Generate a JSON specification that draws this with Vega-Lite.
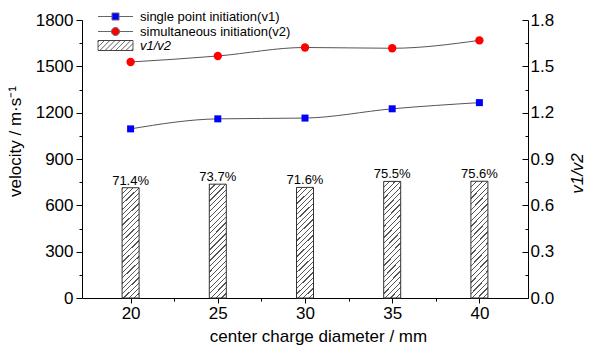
{
  "$schema": "https://vega.github.io/schema/vega-lite/v6.json",
  "width": 446,
  "height": 278,
  "autosize": {"type": "none"},
  "padding": {"left": 82, "top": 20, "right": 62, "bottom": 47},
  "background": "white",
  "config": {
    "view": {"stroke": null},
    "font": "Liberation Sans",
    "axis": {
      "grid": false,
      "domainColor": "#000",
      "domainWidth": 1,
      "tickColor": "#000",
      "tickWidth": 1,
      "labelColor": "#000",
      "titleColor": "#000",
      "labelFont": "Liberation Sans",
      "titleFont": "Liberation Sans",
      "labelFontSize": 17,
      "titleFontSize": 17,
      "titleFontWeight": "normal",
      "labelFlush": false,
      "labelOverlap": false
    },
    "legend": {"labelFont": "Liberation Sans", "labelColor": "#000", "labelFontSize": 13}
  },
  "data": {
    "values": [
      {"d": 20, "v1": 1095, "v2": 1528, "ratio": 0.714, "label": "71.4%"},
      {"d": 25, "v1": 1160, "v2": 1567, "ratio": 0.737, "label": "73.7%"},
      {"d": 30, "v1": 1165, "v2": 1622, "ratio": 0.716, "label": "71.6%"},
      {"d": 35, "v1": 1225, "v2": 1617, "ratio": 0.755, "label": "75.5%"},
      {"d": 40, "v1": 1265, "v2": 1668, "ratio": 0.756, "label": "75.6%"}
    ]
  },
  "layer": [
    {
      "mark": {
        "type": "bar",
        "size": 17,
        "strokeWidth": 1,
        "stroke": "#333333",
        "fill": {
          "gradient": "linear",
          "x1": 0, "y1": 0, "x2": 0.169, "y2": 1.125,
          "stops": [
            {"offset": 0, "color": "#555"}, {"offset": 0.0095, "color": "#555"}, {"offset": 0.0095, "color": "#fff"}, {"offset": 0.0417, "color": "#fff"},
            {"offset": 0.0417, "color": "#555"}, {"offset": 0.0512, "color": "#555"}, {"offset": 0.0512, "color": "#fff"}, {"offset": 0.0833, "color": "#fff"},
            {"offset": 0.0833, "color": "#555"}, {"offset": 0.0928, "color": "#555"}, {"offset": 0.0928, "color": "#fff"}, {"offset": 0.125, "color": "#fff"},
            {"offset": 0.125, "color": "#555"}, {"offset": 0.1345, "color": "#555"}, {"offset": 0.1345, "color": "#fff"}, {"offset": 0.1667, "color": "#fff"},
            {"offset": 0.1667, "color": "#555"}, {"offset": 0.1762, "color": "#555"}, {"offset": 0.1762, "color": "#fff"}, {"offset": 0.2083, "color": "#fff"},
            {"offset": 0.2083, "color": "#555"}, {"offset": 0.2178, "color": "#555"}, {"offset": 0.2178, "color": "#fff"}, {"offset": 0.25, "color": "#fff"},
            {"offset": 0.25, "color": "#555"}, {"offset": 0.2595, "color": "#555"}, {"offset": 0.2595, "color": "#fff"}, {"offset": 0.2917, "color": "#fff"},
            {"offset": 0.2917, "color": "#555"}, {"offset": 0.3012, "color": "#555"}, {"offset": 0.3012, "color": "#fff"}, {"offset": 0.3333, "color": "#fff"},
            {"offset": 0.3333, "color": "#555"}, {"offset": 0.3428, "color": "#555"}, {"offset": 0.3428, "color": "#fff"}, {"offset": 0.375, "color": "#fff"},
            {"offset": 0.375, "color": "#555"}, {"offset": 0.3845, "color": "#555"}, {"offset": 0.3845, "color": "#fff"}, {"offset": 0.4167, "color": "#fff"},
            {"offset": 0.4167, "color": "#555"}, {"offset": 0.4262, "color": "#555"}, {"offset": 0.4262, "color": "#fff"}, {"offset": 0.4583, "color": "#fff"},
            {"offset": 0.4583, "color": "#555"}, {"offset": 0.4678, "color": "#555"}, {"offset": 0.4678, "color": "#fff"}, {"offset": 0.5, "color": "#fff"},
            {"offset": 0.5, "color": "#555"}, {"offset": 0.5095, "color": "#555"}, {"offset": 0.5095, "color": "#fff"}, {"offset": 0.5417, "color": "#fff"},
            {"offset": 0.5417, "color": "#555"}, {"offset": 0.5512, "color": "#555"}, {"offset": 0.5512, "color": "#fff"}, {"offset": 0.5833, "color": "#fff"},
            {"offset": 0.5833, "color": "#555"}, {"offset": 0.5928, "color": "#555"}, {"offset": 0.5928, "color": "#fff"}, {"offset": 0.625, "color": "#fff"},
            {"offset": 0.625, "color": "#555"}, {"offset": 0.6345, "color": "#555"}, {"offset": 0.6345, "color": "#fff"}, {"offset": 0.6667, "color": "#fff"},
            {"offset": 0.6667, "color": "#555"}, {"offset": 0.6762, "color": "#555"}, {"offset": 0.6762, "color": "#fff"}, {"offset": 0.7083, "color": "#fff"},
            {"offset": 0.7083, "color": "#555"}, {"offset": 0.7178, "color": "#555"}, {"offset": 0.7178, "color": "#fff"}, {"offset": 0.75, "color": "#fff"},
            {"offset": 0.75, "color": "#555"}, {"offset": 0.7595, "color": "#555"}, {"offset": 0.7595, "color": "#fff"}, {"offset": 0.7917, "color": "#fff"},
            {"offset": 0.7917, "color": "#555"}, {"offset": 0.8012, "color": "#555"}, {"offset": 0.8012, "color": "#fff"}, {"offset": 0.8333, "color": "#fff"},
            {"offset": 0.8333, "color": "#555"}, {"offset": 0.8428, "color": "#555"}, {"offset": 0.8428, "color": "#fff"}, {"offset": 0.875, "color": "#fff"},
            {"offset": 0.875, "color": "#555"}, {"offset": 0.8845, "color": "#555"}, {"offset": 0.8845, "color": "#fff"}, {"offset": 0.9167, "color": "#fff"},
            {"offset": 0.9167, "color": "#555"}, {"offset": 0.9262, "color": "#555"}, {"offset": 0.9262, "color": "#fff"}, {"offset": 0.9583, "color": "#fff"},
            {"offset": 0.9583, "color": "#555"}, {"offset": 0.9678, "color": "#555"}, {"offset": 0.9678, "color": "#fff"}, {"offset": 1, "color": "#fff"}
          ]
        }
      },
      "encoding": {
        "x": {
          "field": "d",
          "type": "quantitative",
          "scale": {"domain": [17.5, 42.5], "nice": false, "zero": false},
          "axis": {
            "orient": "bottom",
            "values": [20, 25, 30, 35, 40],
            "tickSize": 5,
            "labelPadding": 2,
            "title": "center charge diameter / mm",
            "titleX": 236,
            "titleY": 43,
            "titleAlign": "center",
            "titleBaseline": "alphabetic"
          }
        },
        "y": {
          "field": "ratio",
          "type": "quantitative",
          "scale": {"domain": [0, 1.8], "nice": false},
          "axis": {
            "orient": "right",
            "values": [0, 0.3, 0.6, 0.9, 1.2, 1.5, 1.8],
            "format": ".1f",
            "tickSize": -6,
            "labelPadding": 8,
            "title": "v1/v2",
            "titleFontStyle": "italic",
            "titleAngle": 270,
            "titleX": 49,
            "titleY": 153,
            "titleAlign": "center",
            "titleBaseline": "middle"
          }
        }
      }
    },
    {
      "mark": {"type": "text", "dy": -3, "baseline": "alphabetic", "align": "center", "fontSize": 13, "font": "Liberation Sans", "color": "#000"},
      "encoding": {
        "x": {"field": "d", "type": "quantitative", "axis": null},
        "y": {
          "field": "ratio",
          "type": "quantitative",
          "scale": {"domain": [0, 1.8], "nice": false},
          "axis": {
            "orient": "right",
            "values": [0.15, 0.45, 0.75, 1.05, 1.35, 1.65],
            "tickSize": -3,
            "labels": false,
            "domain": false,
            "title": null
          }
        },
        "text": {"field": "label"}
      }
    },
    {
      "transform": [{"filter": "false"}],
      "mark": {"type": "point", "filled": false, "stroke": "#444444", "strokeWidth": 1, "opacity": 1},
      "encoding": {
        "x": {"field": "d", "type": "quantitative", "axis": null},
        "y": {"field": "ratio", "type": "quantitative", "scale": {"domain": [0, 1.8]}, "axis": null},
        "strokeDash": {
          "datum": "v1/v2",
          "type": "nominal",
          "scale": {"domain": ["v1/v2"], "range": [[1, 0]]},
          "legend": {
            "orient": "none",
            "legendX": 27,
            "legendY": 19,
            "title": null,
            "padding": 0,
            "symbolType": "M-3.5,-1H3.5V1H-3.5Z M-3.5,-0.75L-3.25,-1 M-3.5,0.3L-2.2,-1 M-3.15,1L-1.15,-1 M-2.1,1L-0.1,-1 M-1.05,1L0.95,-1 M0,1L2,-1 M1.05,1L3.05,-1 M2.1,1L3.5,-0.4 M3.15,1L3.5,0.65",
            "symbolSize": 100,
            "symbolStrokeColor": "#444444",
            "symbolFillColor": "transparent",
            "symbolStrokeWidth": 1,
            "labelOffset": 18,
            "labelFontSize": 13,
            "labelFontStyle": "italic"
          }
        }
      }
    },
    {
      "transform": [{"fold": ["v1", "v2"], "as": ["key", "value"]}],
      "mark": {"type": "line", "interpolate": "monotone", "color": "#555", "strokeWidth": 1},
      "encoding": {
        "x": {
          "field": "d",
          "type": "quantitative",
          "axis": {
            "orient": "bottom",
            "values": [22.5, 27.5, 32.5, 37.5],
            "tickSize": 3,
            "labels": false,
            "domain": false,
            "title": null
          }
        },
        "y": {
          "field": "value",
          "type": "quantitative",
          "scale": {"domain": [0, 1800], "nice": false},
          "axis": {
            "orient": "left",
            "values": [0, 300, 600, 900, 1200, 1500, 1800],
            "format": "d",
            "tickSize": 6,
            "labelPadding": 3,
            "title": "velocity / m·s⁻¹",
            "titleAngle": 270,
            "titleX": -67,
            "titleY": 121,
            "titleAlign": "center",
            "titleBaseline": "middle"
          }
        },
        "detail": {"field": "key", "type": "nominal"}
      }
    },
    {
      "transform": [{"fold": ["v1", "v2"], "as": ["key", "value"]}, {"filter": "datum.key == 'v1'"}],
      "mark": {"type": "point", "shape": "square", "filled": true, "color": "#0000ff", "size": 49, "opacity": 1, "strokeWidth": 0},
      "encoding": {
        "x": {"field": "d", "type": "quantitative", "axis": null},
        "y": {
          "field": "value",
          "type": "quantitative",
          "scale": {"domain": [0, 1800], "nice": false},
          "axis": {
            "orient": "left",
            "values": [150, 450, 750, 1050, 1350, 1650],
            "tickSize": 3,
            "labels": false,
            "domain": false,
            "title": null
          }
        }
      }
    },
    {
      "transform": [{"fold": ["v1", "v2"], "as": ["key", "value"]}, {"filter": "datum.key == 'v2'"}],
      "mark": {"type": "point", "shape": "circle", "filled": true, "color": "#ff0000", "size": 70, "opacity": 1, "strokeWidth": 0},
      "encoding": {
        "x": {"field": "d", "type": "quantitative", "axis": null},
        "y": {"field": "value", "type": "quantitative", "scale": {"domain": [0, 1800], "nice": false}, "axis": null}
      }
    },
    {
      "transform": [{"fold": ["v1", "v2"], "as": ["key", "value"]}, {"filter": "false"}],
      "mark": {"type": "point", "filled": true, "stroke": "#666666", "strokeWidth": 1, "opacity": 1},
      "encoding": {
        "x": {"field": "d", "type": "quantitative", "axis": null},
        "y": {"field": "value", "type": "quantitative", "scale": {"domain": [0, 1800]}, "axis": null},
        "color": {
          "field": "key",
          "type": "nominal",
          "scale": {"domain": ["v1", "v2"], "range": ["#0000ff", "#ff0000"]},
          "legend": {
            "orient": "none",
            "legendX": 27,
            "legendY": -10,
            "title": null,
            "padding": 0,
            "rowPadding": 1,
            "symbolSize": 100,
            "symbolStrokeColor": "#666666",
            "symbolStrokeWidth": 1,
            "labelOffset": 18,
            "labelFontSize": 13,
            "labelExpr": "datum.label == 'v1' ? 'single point initiation(v1)' : 'simultaneous initiation(v2)'"
          }
        },
        "shape": {
          "field": "key",
          "type": "nominal",
          "scale": {"domain": ["v1", "v2"], "range": ["M-3.5,0H-0.7M0.7,0H3.5M-0.7,-0.7H0.7V0.7H-0.7Z", "M-3.5,0H-0.8M0.8,0H3.5M-0.8,0A0.8,0.8 0 1,0 0.8,0A0.8,0.8 0 1,0 -0.8,0Z"]},
          "legend": {
            "orient": "none",
            "legendX": 27,
            "legendY": -10,
            "title": null,
            "padding": 0,
            "rowPadding": 1,
            "symbolSize": 100,
            "symbolStrokeColor": "#666666",
            "symbolStrokeWidth": 1,
            "labelOffset": 18,
            "labelFontSize": 13,
            "labelExpr": "datum.label == 'v1' ? 'single point initiation(v1)' : 'simultaneous initiation(v2)'"
          }
        }
      }
    }
  ],
  "resolve": {
    "scale": {"y": "independent"},
    "axis": {"x": "independent"}
  }
}
